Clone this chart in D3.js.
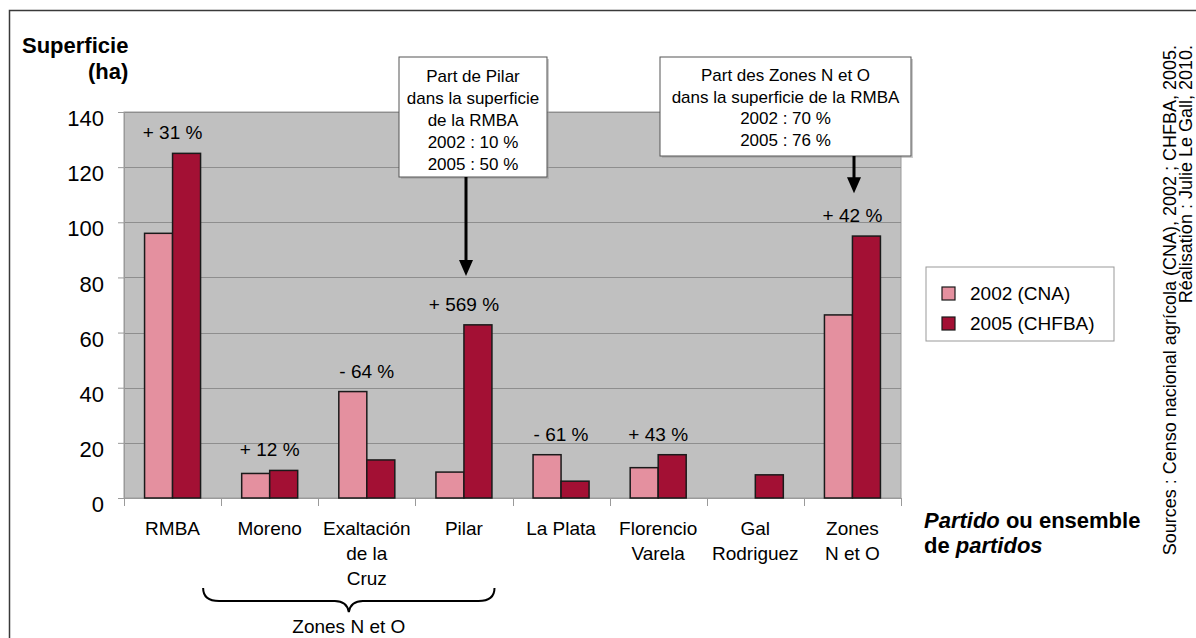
<!DOCTYPE html>
<html>
<head>
<meta charset="utf-8">
<script src="https://cdn.jsdelivr.net/npm/d3@7"></script>
<style>
  html, body { margin: 0; padding: 0; background: #fff; }
  svg { display: block; font-family: "Liberation Sans", Arial, sans-serif; }
</style>
</head>
<body>
<svg id="chart" width="1196" height="638"></svg>
<script>
// ---- Data ----
const categories = ["RMBA", "Moreno", "Exaltación de la Cruz", "Pilar", "La Plata", "Florencio Varela", "Gal Rodriguez", "Zones N et O"];
const categoryLines = [["RMBA"], ["Moreno"], ["Exaltación", "de la", "Cruz"], ["Pilar"], ["La Plata"], ["Florencio", "Varela"], ["Gal", "Rodriguez"], ["Zones", "N et O"]];
const series = ["2002 (CNA)", "2005 (CHFBA)"];
const values2002 = [96, 8.9, 38.6, 9.4, 15.7, 11.0, null, 66.4];
const values2005 = [125, 10.0, 13.8, 62.8, 6.1, 15.7, 8.4, 95.0];
const changeLabels = ["+ 31 %", "+ 12 %", "- 64 %", "+ 569 %", "- 61 %", "+ 43 %", "", "+ 42 %"];
const yTicks = [0, 20, 40, 60, 80, 100, 120, 140];
const yMax = 140;
const calloutPilar = ["Part de Pilar", "dans la superficie", "de la RMBA", "2002 : 10 %", "2005 : 50 %"];
const calloutZones = ["Part des Zones N et O", "dans la superficie de la RMBA", "2002 : 70 %", "2005 : 76 %"];
const groupLabel = "Zones N et O";
const groupSpan = ["Moreno", "Pilar"];
const sourceLines = ["Sources : Censo nacional agrícola (CNA), 2002 ; CHFBA, 2005.", "Réalisation : Julie Le Gall, 2010."];

// ---- Styles ----
const colors = ["#e4909f", "#a31034"];
const plot = { left: 124, right: 901, top: 112, bottom: 498 };

const svg = d3.select("#chart");

// Outer frame
svg.append("rect").attr("x", 9.5).attr("y", 10.5).attr("width", 1300).attr("height", 700)
  .attr("fill", "none").attr("stroke", "#3a3a3a").attr("stroke-width", 1.5);

// Scales
const x0 = d3.scaleBand().domain(categories).range([plot.left, plot.right]).padding(0);
const groupW = 56;
const x1 = d3.scaleBand().domain(series)
  .range([(x0.bandwidth() - groupW) / 2, (x0.bandwidth() + groupW) / 2]).padding(0);
const y = d3.scaleLinear().domain([0, yMax]).range([plot.bottom, plot.top]);

// Plot background
svg.append("rect").attr("x", plot.left).attr("y", plot.top)
  .attr("width", plot.right - plot.left).attr("height", plot.bottom - plot.top)
  .attr("fill", "#c0c0c0").attr("stroke", "#9a9a9a").attr("stroke-width", 1);

// Gridlines
svg.append("g").selectAll("line").data(yTicks.filter(d => d > 0)).join("line")
  .attr("x1", plot.left).attr("x2", plot.right)
  .attr("y1", d => Math.round(y(d)) + 0.5).attr("y2", d => Math.round(y(d)) + 0.5)
  .attr("stroke", "#8e8e8e").attr("stroke-width", 1);

// Y axis
const yAxis = d3.axisLeft(y).tickValues(yTicks).tickSize(6).tickPadding(14);
const gy = svg.append("g").attr("transform", `translate(${plot.left},0)`).call(yAxis);
gy.select(".domain").attr("stroke", "#9a9a9a");
gy.selectAll(".tick line").attr("stroke", "#9a9a9a");
gy.selectAll(".tick text").attr("font-size", 22).attr("fill", "#000")
  .attr("font-family", "Liberation Sans, Arial, sans-serif").attr("dy", "0.62em");

// X axis (line and ticks between categories)
const gx = svg.append("g").attr("transform", `translate(0,${plot.bottom})`);
gx.append("line").attr("x1", plot.left).attr("x2", plot.right).attr("y1", 0.5).attr("y2", 0.5)
  .attr("stroke", "#9a9a9a");
const boundaries = categories.map(c => x0(c)).concat([x0(categories[categories.length - 1]) + x0.bandwidth()]);
gx.selectAll("line.tk").data(boundaries).join("line").attr("class", "tk")
  .attr("x1", d => Math.round(d) + 0.5).attr("x2", d => Math.round(d) + 0.5)
  .attr("y1", 0).attr("y2", 8).attr("stroke", "#9a9a9a");

// Category labels
const catG = svg.append("g").selectAll("text").data(categories).join("text")
  .attr("x", d => x0(d) + x0.bandwidth() / 2)
  .attr("y", 535)
  .attr("text-anchor", "middle").attr("font-size", 19).attr("fill", "#000");
catG.each(function(d, i) {
  d3.select(this).selectAll("tspan").data(categoryLines[i]).join("tspan")
    .attr("x", x0(d) + x0.bandwidth() / 2)
    .attr("dy", (t, j) => j === 0 ? 0 : 25)
    .text(t => t);
});

// Bars
const barData = [];
categories.forEach((c, i) => {
  [values2002[i], values2005[i]].forEach((v, s) => {
    if (v != null) barData.push({ cat: c, series: series[s], value: v, color: colors[s] });
  });
});
svg.append("g").selectAll("rect").data(barData).join("rect")
  .attr("x", d => x0(d.cat) + x1(d.series))
  .attr("y", d => y(d.value))
  .attr("width", x1.bandwidth())
  .attr("height", d => y(0) - y(d.value))
  .attr("fill", d => d.color)
  .attr("stroke", "#1a1a1a").attr("stroke-width", 1.5);

// Change labels
svg.append("g").selectAll("text").data(categories).join("text")
  .attr("x", d => x0(d) + x0.bandwidth() / 2)
  .attr("y", (d, i) => y(Math.max(values2002[i] || 0, values2005[i] || 0)) - 14)
  .attr("text-anchor", "middle").attr("font-size", 19).attr("fill", "#000")
  .text((d, i) => changeLabels[i]);

// Callout boxes with arrows
function callout(lines, box, lineY, arrowX, arrowTipValue) {
  const g = svg.append("g");
  g.append("rect").attr("x", box.x + 2).attr("y", box.y + 2).attr("width", box.w).attr("height", box.h)
    .attr("fill", "#9a9a9a").attr("opacity", 0.5);
  g.append("rect").attr("x", box.x).attr("y", box.y).attr("width", box.w).attr("height", box.h)
    .attr("fill", "#fff").attr("stroke", "#555").attr("stroke-width", 1);
  g.selectAll("text").data(lines).join("text")
    .attr("x", box.x + box.w / 2).attr("y", (d, i) => lineY[0] + i * lineY[1])
    .attr("text-anchor", "middle").attr("font-size", 17).attr("fill", "#000").text(d => d);
  const tipY = y(arrowTipValue);
  g.append("line").attr("x1", arrowX).attr("x2", arrowX).attr("y1", box.y + box.h).attr("y2", tipY - 14)
    .attr("stroke", "#000").attr("stroke-width", 3);
  g.append("path").attr("d", `M${arrowX - 7},${tipY - 16} L${arrowX + 7},${tipY - 16} L${arrowX},${tipY} Z`)
    .attr("fill", "#000");
}
callout(calloutPilar, { x: 399, y: 57, w: 148, h: 120 }, [82, 22], 466, 80.5);
callout(calloutZones, { x: 660, y: 57, w: 251, h: 99 }, [81, 21.5], 854, 110.5);

// Legend
const lg = svg.append("g");
lg.append("rect").attr("x", 926).attr("y", 267).attr("width", 188).attr("height", 74)
  .attr("fill", "#fff").attr("stroke", "#999").attr("stroke-width", 1);
series.forEach((s, i) => {
  const yy = 287 + i * 30;
  lg.append("rect").attr("x", 942).attr("y", yy).attr("width", 13).attr("height", 13)
    .attr("fill", colors[i]).attr("stroke", "#1a1a1a").attr("stroke-width", 1.2);
  lg.append("text").attr("x", 970).attr("y", yy + 13).attr("font-size", 19).attr("fill", "#000").text(s);
});

// Y axis title
svg.append("text").attr("x", 22).attr("y", 53).attr("font-size", 22).attr("font-weight", "bold").text("Superficie");
svg.append("text").attr("x", 88).attr("y", 79).attr("font-size", 22).attr("font-weight", "bold").text("(ha)");

// X axis title (right)
const xt1 = svg.append("text").attr("x", 924).attr("y", 528).attr("font-size", 22).attr("font-weight", "bold");
xt1.append("tspan").attr("font-style", "italic").text("Partido");
xt1.append("tspan").text(" ou ensemble");
const xt2 = svg.append("text").attr("x", 924).attr("y", 553).attr("font-size", 22).attr("font-weight", "bold");
xt2.append("tspan").text("de ");
xt2.append("tspan").attr("font-style", "italic").text("partidos");

// Brace under Zones N et O partidos
const bx1 = x0(groupSpan[0]) - 18, bx2 = x0(groupSpan[1]) + x0.bandwidth() - 18;
const bm = (bx1 + bx2) / 2, by = 601;
svg.append("path")
  .attr("d", `M${bx1},588 Q${bx1},${by} ${bx1 + 16},${by} L${bm - 14},${by} Q${bm - 2},${by} ${bm},${by + 11} Q${bm + 2},${by} ${bm + 14},${by} L${bx2 - 16},${by} Q${bx2},${by} ${bx2},588`)
  .attr("fill", "none").attr("stroke", "#000").attr("stroke-width", 2);
svg.append("text").attr("x", bm).attr("y", 633).attr("text-anchor", "middle").attr("font-size", 19).text(groupLabel);

// Sources (vertical)
sourceLines.forEach((t, i) => {
  svg.append("text").attr("transform", `translate(${1176 + i * 16},45) rotate(-90)`)
    .attr("text-anchor", "end").attr("font-size", 18).attr("fill", "#000").text(t);
});
</script>
</body>
</html>
